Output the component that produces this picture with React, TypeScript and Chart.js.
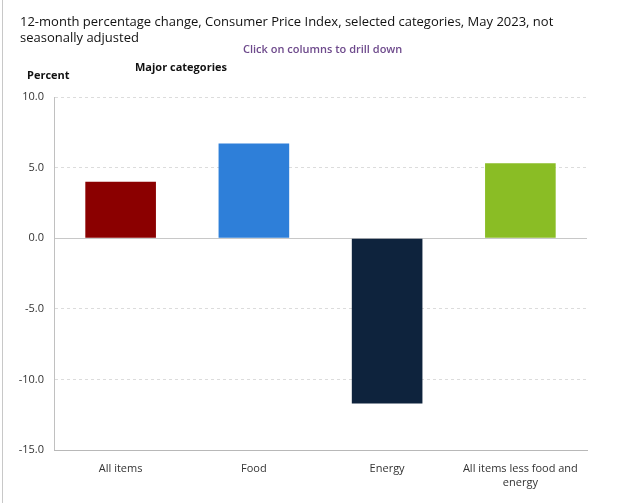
import React, { useEffect, useRef } from "react";
import { Chart, registerables } from "chart.js";

Chart.register(...registerables);

const categories: (string | string[])[] = [
  "All items",
  "Food",
  "Energy",
  ["All items less food and", "energy"],
];
const values: number[] = [4.0, 6.7, -11.7, 5.3];
const barColors: string[] = ["#8b0000", "#2e7fd9", "#0e233d", "#8abd25"];
const yMin = -15;
const yMax = 10;
const yStep = 5;

const FONT = "'Open Sans', 'Noto Sans', sans-serif";

export default function App() {
  const ref = useRef<HTMLCanvasElement | null>(null);

  useEffect(() => {
    if (!ref.current) return;
    const chart = new Chart(ref.current, {
      type: "bar",
      data: {
        labels: categories as any,
        datasets: [
          {
            data: values,
            backgroundColor: barColors,
            borderWidth: 0,
            barPercentage: 0.53,
            categoryPercentage: 1,
          },
        ],
      },
      options: {
        animation: false,
        responsive: false,
        maintainAspectRatio: false,
        layout: { padding: { top: 97, right: 53, bottom: 0, left: 0 } },
        plugins: {
          legend: { display: false },
          tooltip: { enabled: false },
          title: { display: false },
        },
        scales: {
          y: {
            min: yMin,
            max: yMax,
            afterFit: (s: any) => {
              s.width = 54;
            },
            ticks: {
              stepSize: yStep,
              padding: 10,
              color: "#333",
              font: { family: FONT, size: 11 },
              callback: (v: any) => Number(v).toFixed(1),
            },
            grid: {
              drawTicks: false,
              color: (ctx: any) =>
                ctx.tick && ctx.tick.value === 0 ? "#c8c8c8" : "#dcdcdc",
            },
            border: {
              display: true,
              color: "#c0c0c0",
              dash: (ctx: any) =>
                ctx.tick && ctx.tick.value === 0 ? [] : [3, 3],
            } as any,
          },
          x: {
            afterFit: (s: any) => {
              s.height = 53;
            },
            grid: { display: false, drawTicks: false },
            border: { display: true, color: "#b8b8b8" },
            ticks: {
              padding: 11,
              color: "#333",
              maxRotation: 0,
              autoSkip: false,
              font: { family: FONT, size: 11, lineHeight: 1.35 },
            },
          },
        },
      },
    });
    return () => chart.destroy();
  }, []);

  const text: React.CSSProperties = {
    position: "absolute",
    fontFamily: FONT,
    whiteSpace: "nowrap",
    margin: 0,
  };

  return (
    <div
      style={{
        position: "absolute",
        left: 0,
        top: 0,
        width: 640,
        height: 503,
        background: "#fff",
        overflow: "hidden",
      }}
    >
      <div
        style={{
          position: "absolute",
          left: 2,
          top: 0,
          width: 1,
          height: 503,
          background: "#c8c8c8",
        }}
      />
      <canvas
        ref={ref}
        width={640}
        height={503}
        style={{ position: "absolute", left: 0, top: 0 }}
      />
      <div
        style={{
          ...text,
          left: 20,
          top: 13,
          fontSize: 13,
          lineHeight: "16px",
          color: "#111",
        }}
      >
        12-month percentage change, Consumer Price Index, selected categories, May 2023, not
        <br />
        seasonally adjusted
      </div>
      <div
        style={{
          ...text,
          left: 243,
          top: 41,
          fontSize: 11,
          fontWeight: 600,
          color: "#6e4a8c",
        }}
      >
        Click on columns to drill down
      </div>
      <div
        style={{
          ...text,
          left: 135,
          top: 59,
          fontSize: 11,
          fontWeight: 700,
          color: "#111",
        }}
      >
        Major categories
      </div>
      <div
        style={{
          ...text,
          left: 27,
          top: 67,
          fontSize: 11,
          fontWeight: 700,
          color: "#111",
        }}
      >
        Percent
      </div>
    </div>
  );
}
